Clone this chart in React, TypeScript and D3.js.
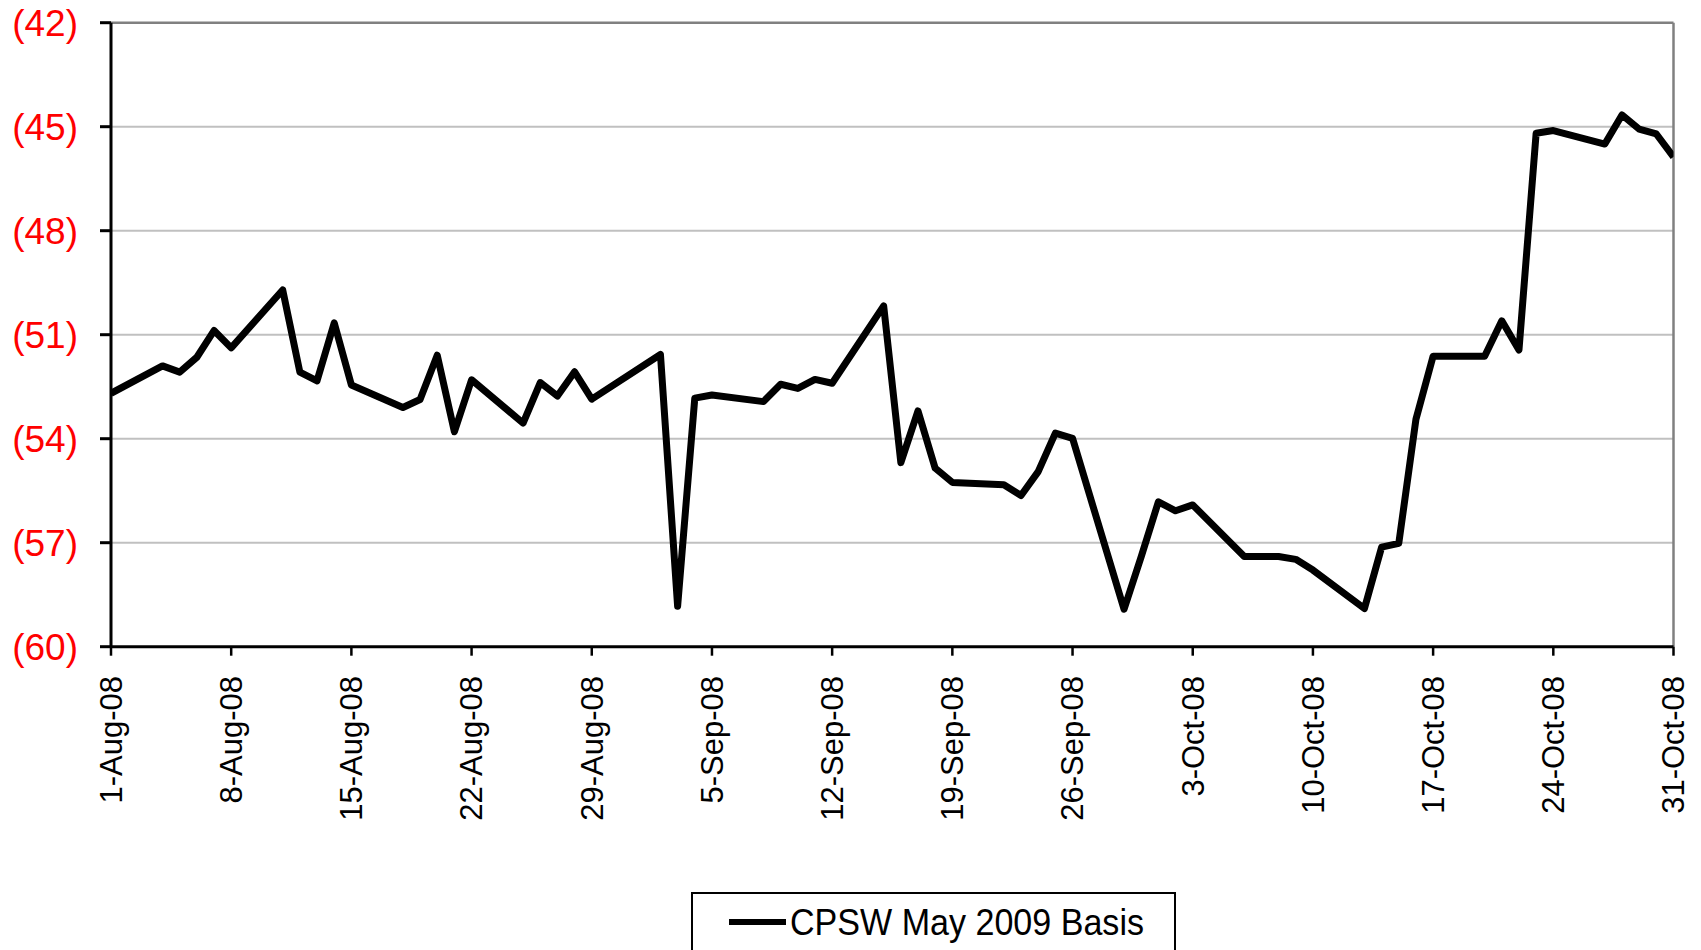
import React from "react";
import * as d3 from "d3";

const dates: string[] = [
  "2008-08-01","2008-08-04","2008-08-05","2008-08-06","2008-08-07","2008-08-08",
  "2008-08-11","2008-08-12","2008-08-13","2008-08-14","2008-08-15",
  "2008-08-18","2008-08-19","2008-08-20","2008-08-21","2008-08-22",
  "2008-08-25","2008-08-26","2008-08-27","2008-08-28","2008-08-29",
  "2008-09-02","2008-09-03","2008-09-04","2008-09-05",
  "2008-09-08","2008-09-09","2008-09-10","2008-09-11","2008-09-12",
  "2008-09-15","2008-09-16","2008-09-17","2008-09-18","2008-09-19",
  "2008-09-22","2008-09-23","2008-09-24","2008-09-25","2008-09-26",
  "2008-09-29","2008-09-30","2008-10-01","2008-10-02","2008-10-03",
  "2008-10-06","2008-10-07","2008-10-08","2008-10-09","2008-10-10",
  "2008-10-13","2008-10-14","2008-10-15","2008-10-16","2008-10-17",
  "2008-10-20","2008-10-21","2008-10-22","2008-10-23","2008-10-24",
  "2008-10-27","2008-10-28","2008-10-29","2008-10-30","2008-10-31",
];

const basisValues: number[] = [
  -52.69, -51.9, -52.08, -51.65, -50.88, -51.38,
  -49.71, -52.08, -52.33, -50.66, -52.45,
  -53.1, -52.87, -51.59, -53.8, -52.3,
  -53.55, -52.38, -52.77, -52.07, -52.86,
  -51.57, -58.83, -52.83, -52.74,
  -52.93, -52.43, -52.55, -52.29, -52.4,
  -50.17, -54.69, -53.2, -54.85, -55.26,
  -55.33, -55.64, -54.95, -53.84, -53.99,
  -58.92, -57.4, -55.82, -56.08, -55.91,
  -57.4, -57.4, -57.4, -57.48, -57.79,
  -58.9, -57.13, -57.02, -53.44, -51.62,
  -51.62, -50.6, -51.44, -45.19, -45.11,
  -45.5, -44.66, -45.07, -45.21, -45.87,
];

const yTicks: number[] = [-42, -45, -48, -51, -54, -57, -60];
const xTickLabels: string[] = [
  "1-Aug-08","8-Aug-08","15-Aug-08","22-Aug-08","29-Aug-08","5-Sep-08","12-Sep-08",
  "19-Sep-08","26-Sep-08","3-Oct-08","10-Oct-08","17-Oct-08","24-Oct-08","31-Oct-08",
];
const xTickDates: string[] = [
  "2008-08-01","2008-08-08","2008-08-15","2008-08-22","2008-08-29","2008-09-05","2008-09-12",
  "2008-09-19","2008-09-26","2008-10-03","2008-10-10","2008-10-17","2008-10-24","2008-10-31",
];
const seriesName = "CPSW May 2009 Basis";

const W = 1701, H = 950;
const L = 111, R = 1673.5, T = 22.7, B = 646.7;
const FONT = "'Liberation Sans', Arial, sans-serif";

const parse = d3.utcParse("%Y-%m-%d");

export default function App() {
  const x = d3.scaleUtc().domain([parse("2008-08-01")!, parse("2008-10-31")!]).range([L, R]);
  const y = d3.scaleLinear().domain([-60, -42]).range([B, T]);
  const pts = dates.map((d, i) => ({ d: parse(d)!, v: basisValues[i] }));
  const line = d3.line<{ d: Date; v: number }>().x((p) => x(p.d)).y((p) => y(p.v));
  const fmt = (v: number) => `(${Math.abs(v)})`;

  return (
    <svg width={W} height={H} style={{ position: "absolute", left: 0, top: 0, background: "#fff" }}>
      <defs>
        <clipPath id="plotclip">
          <rect x={L} y={T - 10} width={R - L} height={B - T + 20} />
        </clipPath>
      </defs>
      {yTicks.filter((t) => t !== -60 && t !== -42).map((t) => (
        <line key={t} x1={L} x2={R} y1={y(t)} y2={y(t)} stroke="#c0c0c0" strokeWidth={2} />
      ))}
      <line x1={L} x2={R} y1={y(-42)} y2={y(-42)} stroke="#808080" strokeWidth={2.5} />
      <line x1={R} x2={R} y1={T} y2={B} stroke="#808080" strokeWidth={2.5} />
      <line x1={L} x2={L} y1={T} y2={B + 1} stroke="#000" strokeWidth={3} />
      {yTicks.map((t) => (
        <g key={t}>
          <line x1={L - 11} x2={L} y1={y(t)} y2={y(t)} stroke="#000" strokeWidth={3} />
          <text x={78} y={y(t)} dy="0.35em" textAnchor="end" fill="#ff0000" fontFamily={FONT} fontSize={37}>
            {fmt(t)}
          </text>
        </g>
      ))}
      <line x1={L} x2={R} y1={B} y2={B} stroke="#000" strokeWidth={3} />
      {xTickDates.map((d, i) => {
        const xx = x(parse(d)!);
        return (
          <g key={d}>
            <line x1={xx} x2={xx} y1={B} y2={B + 9} stroke="#000" strokeWidth={2.5} />
            <text
              transform={`translate(${xx},676) rotate(-90)`}
              dy="0.35em"
              textAnchor="end"
              fill="#000"
              fontFamily={FONT}
              fontSize={31}
            >
              {xTickLabels[i]}
            </text>
          </g>
        );
      })}
      <path
        d={line(pts) || ""}
        fill="none"
        stroke="#000"
        strokeWidth={7}
        strokeLinejoin="round"
        clipPath="url(#plotclip)"
      />
      <rect x={692} y={893} width={483} height={80} fill="#fff" stroke="#000" strokeWidth={2} />
      <line x1={729} x2={786} y1={922} y2={922} stroke="#000" strokeWidth={6} />
      <text x={790} y={922} dy="0.35em" fill="#000" fontFamily={FONT} fontSize={36} textLength={354} lengthAdjust="spacingAndGlyphs">
        {seriesName}
      </text>
    </svg>
  );
}
